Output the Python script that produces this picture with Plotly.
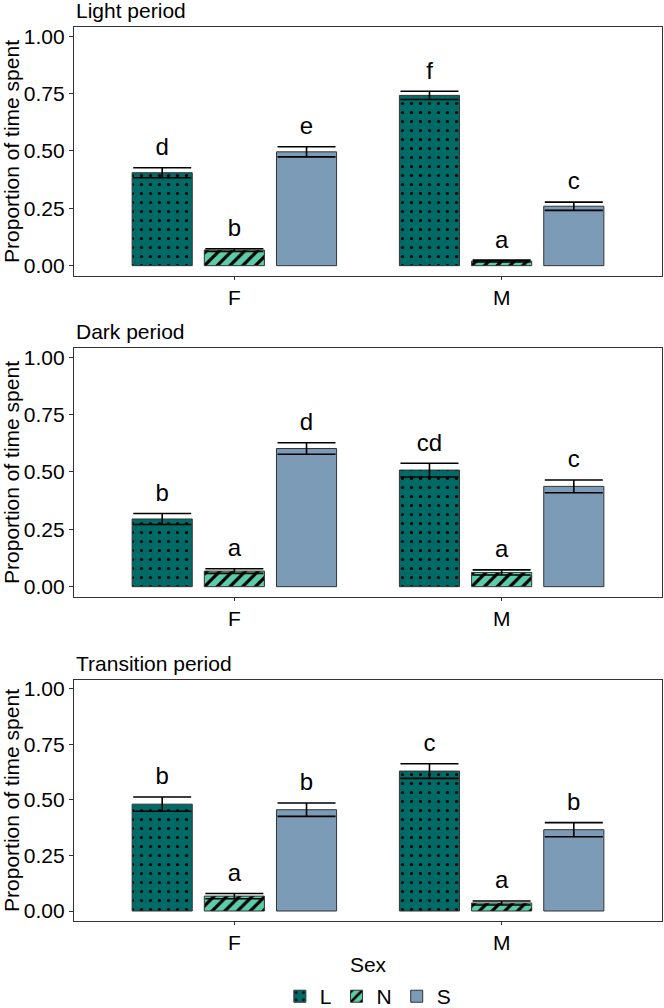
import plotly.graph_objects as go
from plotly.subplots import make_subplots

sexes = ["F", "M"]
behaviours = ["L", "N", "S"]
periods = ["Light period", "Dark period", "Transition period"]

# mean proportion per period, behaviour (values for F, M)
light_mean = {"L": [0.405, 0.742], "N": [0.068, 0.020], "S": [0.496, 0.259]}
light_se = {"L": [0.022, 0.018], "N": [0.006, 0.004], "S": [0.022, 0.018]}
light_letters = {"L": ["d", "f"], "N": ["b", "a"], "S": ["e", "c"]}

dark_mean = {"L": [0.295, 0.508], "N": [0.068, 0.062], "S": [0.602, 0.437]}
dark_se = {"L": [0.024, 0.030], "N": [0.010, 0.011], "S": [0.025, 0.028]}
dark_letters = {"L": ["b", "cd"], "N": ["a", "a"], "S": ["d", "c"]}

trans_mean = {"L": [0.481, 0.630], "N": [0.067, 0.036], "S": [0.456, 0.366]}
trans_se = {"L": [0.032, 0.033], "N": [0.012, 0.009], "S": [0.030, 0.032]}
trans_letters = {"L": ["b", "c"], "N": ["a", "a"], "S": ["b", "b"]}

panel_data = [
    (light_mean, light_se, light_letters),
    (dark_mean, dark_se, dark_letters),
    (trans_mean, trans_se, trans_letters),
]

fill = {"L": "#006B66", "N": "#5CCBA8", "S": "#7B9BB7"}
patterns = {
    "L": dict(shape=".", bgcolor="#006B66", fgcolor="black", size=9, solidity=0.1, fillmode="replace"),
    "N": dict(shape="/", bgcolor="#5CCBA8", fgcolor="black", size=9, solidity=0.35, fillmode="replace"),
    "S": dict(shape=""),
}

FONT = "Liberation Sans, Arial, sans-serif"

fig = make_subplots(rows=3, cols=1)

for i, (means, ses, letters) in enumerate(panel_data):
    for b in behaviours:
        fig.add_trace(
            go.Bar(
                x=sexes, y=means[b], name=b, legendgroup=b, showlegend=(i == 0),
                offsetgroup=b,
                marker=dict(color=fill[b], line=dict(color="#333333", width=1),
                            pattern=patterns[b]),
                error_y=dict(type="data", array=ses[b], color="black",
                             thickness=1.6, width=29),
            ),
            row=i + 1, col=1,
        )
    for b in behaviours:
        fig.add_trace(
            go.Scatter(
                x=sexes, y=[m + s for m, s in zip(means[b], ses[b])],
                mode="markers+text", text=letters[b], textposition="top center",
                marker=dict(size=9, color="rgba(0,0,0,0)"),
                textfont=dict(size=24, color="black", family=FONT),
                offsetgroup=b, showlegend=False, hoverinfo="skip",
            ),
            row=i + 1, col=1,
        )

x_dom = [74 / 664, 662 / 664]
y_doms = [[1 - 276 / 1008, 1 - 27 / 1008],
          [1 - 597 / 1008, 1 - 348 / 1008],
          [1 - 921 / 1008, 1 - 680 / 1008]]

for i in range(3):
    xa = "xaxis" if i == 0 else f"xaxis{i + 1}"
    ya = "yaxis" if i == 0 else f"yaxis{i + 1}"
    fig.layout[xa].update(
        domain=x_dom, range=[-0.6, 1.6], showline=True, mirror=True,
        linecolor="#333333", linewidth=1.2, ticks="outside", ticklen=3,
        tickcolor="#333333", showgrid=False, zeroline=False,
        tickfont=dict(size=21, color="black", family=FONT), automargin=False,
    )
    fig.layout[ya].update(
        domain=y_doms[i], range=[-0.045, 1.04], showline=True, mirror=True,
        linecolor="#333333", linewidth=1.2, ticks="outside", ticklen=4,
        tickcolor="#333333", showgrid=False, zeroline=False,
        tickvals=[0, 0.25, 0.5, 0.75, 1.0], tickformat=".2f",
        tickfont=dict(size=21, color="black", family=FONT), automargin=False,
        title=dict(text="Proportion of time spent", font=dict(size=21, color="black", family=FONT),
                   standoff=3),
    )
    fig.add_annotation(
        text=periods[i], xref="paper", yref="paper", x=x_dom[0], y=y_doms[i][1],
        xanchor="left", yanchor="bottom", yshift=3, showarrow=False,
        font=dict(size=21, color="black", family=FONT),
    )

fig.layout["xaxis3"].update(
    title=dict(text="Sex", font=dict(size=21, color="black", family=FONT), standoff=4)
)

fig.update_layout(
    width=664, height=1008,
    margin=dict(l=0, r=0, t=0, b=0, autoexpand=False),
    paper_bgcolor="white", plot_bgcolor="white",
    barmode="group", bargap=0.19, bargroupgap=0.167,
    scattermode="group", scattergap=0.19,
    font=dict(family=FONT, color="black"),
    legend=dict(orientation="h", x=0.554, xanchor="center", y=-0.009, yanchor="bottom",
                font=dict(size=21, color="black", family=FONT),
                itemwidth=30, traceorder="normal", tracegroupgap=0),
)

fig.write_html("out.html")
